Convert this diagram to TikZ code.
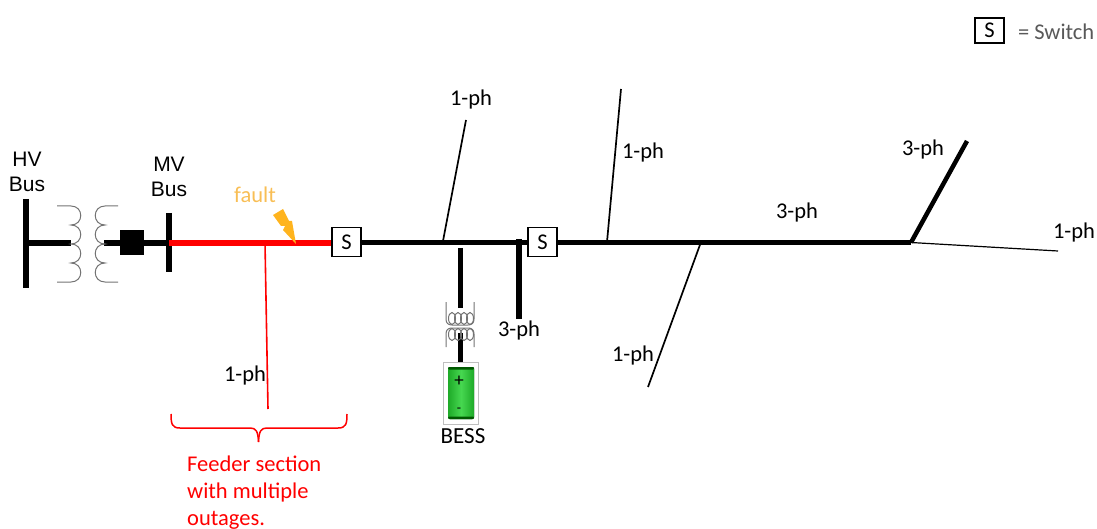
\documentclass[tikz,border=0pt]{standalone}
\usepackage{fontspec}
\setmainfont{Carlito}
\newfontfamily\arialfont{Liberation Sans}
\usetikzlibrary{positioning}
\definecolor{FaultColor}{RGB}{255,180,30}
\definecolor{FaultText}{RGB}{248,190,85}
\colorlet{CoilColor}{black!55}
\definecolor{FaultRed}{RGB}{255,0,0}
\definecolor{BatteryGreen}{RGB}{70,215,80}
\definecolor{BatteryEdge}{RGB}{30,170,40}
\tikzset{
    Label/.style={inner sep=0pt, font=\fontsize{22.5}{27}\selectfont},
    BusLabel/.style={Label, align=center, font=\arialfont\fontsize{21}{25}\selectfont},
    Switch/.style={draw, line width=1.6pt, fill=white, minimum width=29pt, minimum height=29pt, inner sep=0pt, font=\fontsize{22.5}{27}\selectfont},
    Bus/.style={line width=6pt},
    MainLine/.style={line width=5.5pt},
    Coil/.style={CoilColor, line width=1pt}
}

\begin{document}
\begin{tikzpicture}[x=1pt, y=-1pt]
    \useasboundingbox (0, 0) rectangle (1097, 529);

    \coordinate (HVTop) at (26, 199);
    \coordinate (HVBottom) at (26, 288);
    \coordinate (HVTap) at (26, 243);
    \coordinate (HVEnd) at (71, 243);
    \coordinate (MVTop) at (169, 213);
    \coordinate (MVBottom) at (169, 272);
    \coordinate (MVTap) at (169, 243);
    \coordinate (TrafoEnd) at (104, 243);
    \coordinate (RedTap) at (265, 243);
    \coordinate (RedEnd) at (268, 409);
    \coordinate (BattTap) at (460, 248);
    \coordinate (BattUp) at (460, 308);
    \coordinate (BattLow) at (460, 333);
    \coordinate (BattTop) at (460, 363);
    \coordinate (ThreeTap) at (519, 239);
    \coordinate (ThreeEnd) at (519, 319);
    \coordinate (TapA) at (443, 241);
    \coordinate (EndA) at (466, 120);
    \coordinate (TapB) at (607, 242);
    \coordinate (EndB) at (621, 89);
    \coordinate (TapC) at (701, 242);
    \coordinate (EndC) at (648, 387);
    \coordinate (Fork) at (911, 242.5);
    \coordinate (EndD) at (967, 141);
    \coordinate (EndE) at (1058, 251);

    % Nodos de los interruptores
    \node[Switch] (SwitchA) at (346.5, 242) {S};
    \node[Switch] (SwitchB) at (542.5, 242) {S};
    \node[Switch, minimum height=25pt] (SwitchKey) at (989.5, 30.5) {S};
    \node[Label, text=black!65, right=13pt of SwitchKey, yshift=-1.5pt] (KeyText) {= Switch};

    % Barras y transformador
    \draw[Bus] (HVTop) -- (HVBottom);
    \draw[Bus] (MVTop) -- (MVBottom);
    \draw[Bus] (HVTap) -- (HVEnd);
    \draw[Bus] (TrafoEnd) -- (MVTap);
    \node[fill=black, minimum width=24pt, minimum height=25pt, inner sep=0pt] (Breaker) at (132, 242.5) {};

    \draw[Coil] (57, 206) -- (71, 206)
    \foreach \k in {1,...,4} { .. controls +(13, 0) and +(13, 0) .. ++(0, 19) } -- (57, 282);
    \draw[Coil] (118, 206) -- (105, 206)
    \foreach \k in {1,...,4} { .. controls +(-13, 0) and +(-13, 0) .. ++(0, 19) } -- (118, 282);

    % Tramo con fallas
    \draw[FaultRed, MainLine] (MVTap) -- (MVTap -| SwitchA.west);
    \draw[FaultRed, line width=1.6pt] (RedTap) -- (RedEnd);
    \fill[FaultColor] (273, 215) -- (283, 209) -- (289, 221) -- (292, 221) -- (296, 244)
    -- (283, 230) -- (285, 226) -- (281, 226) -- cycle;
    \node[Label, text=FaultText] (FaultLabel) at (255, 195) {fault};

    % Alimentador principal
    \draw[MainLine] (SwitchA.east |- Fork) -- (SwitchB.west |- Fork);
    \draw[MainLine] (SwitchB.east |- Fork) -- (Fork);
    \draw[Bus] (ThreeTap) -- (ThreeEnd);
    \draw[line width=1.7pt] (TapA) -- (EndA);
    \draw[line width=1.7pt] (TapB) -- (EndB);
    \draw[line width=1.7pt] (TapC) -- (EndC);
    \draw[line width=4.5pt] (Fork) -- (EndD);
    \draw[line width=1.2pt] (Fork) -- (EndE);

    % Bateria
    \draw[line width=5pt] (BattTap) -- (BattUp);
    \draw[line width=5pt] (BattLow) -- (BattTop);
    \draw[Coil] (446, 302) -- (446, 319) .. controls (446, 323) and (448, 325) .. (452, 325)
    -- (468, 325) .. controls (472, 325) and (474, 323) .. (474, 319) -- (474, 302);
    \draw[Coil] (446, 347) -- (446, 334) .. controls (446, 330) and (448, 328) .. (452, 328)
    -- (468, 328) .. controls (472, 328) and (474, 330) .. (474, 334) -- (474, 347);
    \foreach \x in {452, 458, 464, 470} {
        \draw[Coil] (\x, 318.5) ellipse [x radius=3.5, y radius=6];
        \draw[Coil] (\x, 334.5) ellipse [x radius=3.5, y radius=6];
    }
    \draw[black!25, line width=.7pt] (443.5, 362.5) rectangle (478.5, 424);
    \fill[left color=BatteryEdge, right color=BatteryEdge, middle color=BatteryGreen, rounded corners=2pt]
    (448, 367) rectangle (474, 419);
    \fill[green!35!black, rounded corners=1pt] (448, 367) rectangle (474, 369.5);
    \fill[green!35!black, rounded corners=1pt] (448, 416.5) rectangle (474, 419);
    \node[inner sep=0pt, font=\fontsize{19}{19}\selectfont] (Plus) at (459, 381) {+};
    \node[inner sep=0pt, font=\fontsize{14}{14}\selectfont] (Minus) at (459, 410) {-};
    \node[Label, font=\fontsize{23}{27}\selectfont] (BessText) at (463, 436) {BESS};

    % Llave
    \draw[FaultRed, line width=1.5pt] (171, 414) .. controls (171, 424) and (172, 428) .. (180, 428)
    -- (250, 428) .. controls (256, 428) and (258, 431) .. (258.5, 442);
    \draw[FaultRed, line width=1.5pt] (347, 414) .. controls (347, 424) and (346, 428) .. (338, 428)
    -- (267, 428) .. controls (261, 428) and (259, 431) .. (258.5, 442);
    \node[Label, text=FaultRed, align=left, anchor=north west, font=\fontsize{22.5}{27}\selectfont] (FeederText) at (187, 455.5)
    {Feeder section\\with multiple\\outages.};

    % Textos
    \node[BusLabel] (HVText) at (27, 172) {HV\\Bus};
    \node[BusLabel] (MVText) at (169, 177) {MV\\Bus};
    \node[Label] (PhA) at (471, 100) {1-ph};
    \node[Label] (PhB) at (643, 153) {1-ph};
    \node[Label] (PhC) at (797, 213) {3-ph};
    \node[Label] (PhD) at (923, 150) {3-ph};
    \node[Label] (PhE) at (1074, 233) {1-ph};
    \node[Label] (PhF) at (633, 356) {1-ph};
    \node[Label] (PhG) at (519, 331) {3-ph};
    \node[Label] (PhH) at (245, 376) {1-ph};
\end{tikzpicture}
\end{document}
